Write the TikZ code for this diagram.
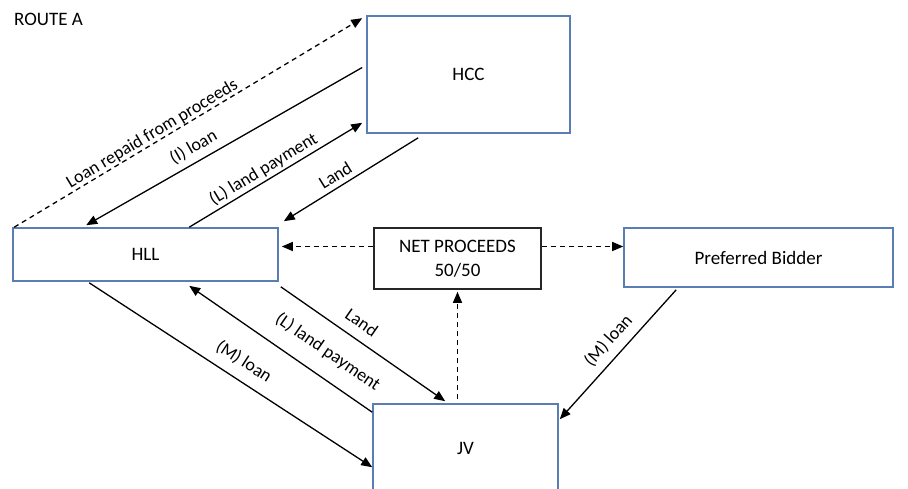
\documentclass[tikz,border=0pt]{standalone}
\usepackage{fontspec}
\setmainfont{Carlito}
\usetikzlibrary{arrows.meta,calc}
\definecolor{boxblue}{RGB}{90,125,180}
\begin{document}
\begin{tikzpicture}[x=1pt,y=-1pt,
  bluebox/.style={draw=boxblue,line width=1.6pt,rectangle,inner sep=0pt,font=\fontsize{19}{22}\selectfont,align=center},
  blackbox/.style={draw=black!85,line width=1.6pt,rectangle,inner sep=0pt,font=\fontsize{19}{24}\selectfont,align=center},
  conn/.style={line width=1.3pt,-{Triangle[length=11pt,width=9pt]}},
  dconn/.style={conn,dash pattern=on 5pt off 4pt},
  lbl/.style={sloped,inner sep=0pt,font=\fontsize{18}{21}\selectfont}]
\useasboundingbox (0,0) rectangle (908,488);
\node[anchor=west,inner sep=0pt,font=\fontsize{19}{22}\selectfont] (title) at (14,19) {ROUTE A};
\node[bluebox,minimum width=203pt,minimum height=117pt] (HCC) at (468.5,74.5) {HCC};
\node[bluebox,minimum width=265pt,minimum height=53pt] (HLL) at (145.5,254.5) {HLL};
\node[blackbox,minimum width=167pt,minimum height=61pt] (NET) at (457.5,258.5) {NET PROCEEDS\\50/50};
\node[bluebox,minimum width=269pt,minimum height=59pt] (PB) at (758.5,257.5) {Preferred Bidder};
\node[bluebox,minimum width=185pt,minimum height=88pt] (JV) at (465.5,448) {JV};
% HLL <-> HCC
\draw[dconn] ([shift={(2,0)}]HLL.north west) -- node[lbl,pos=0.41,above=0.5pt]{Loan repaid from proceeds} ([shift={(-4,3)}]HCC.north west);
\draw[conn] ([shift={(-4,-7)}]HCC.west) -- node[lbl,pos=0.585,above=6pt]{(I) loan} ([shift={(74,-2)}]HLL.north west);
\draw[conn] ([shift={(177,0)}]HLL.north west) -- node[lbl,pos=0.463,above=2.5pt]{(L) land payment} ([shift={(-4,-11)}]HCC.south west);
\draw[conn] ([shift={(52,4)}]HCC.south west) -- node[lbl,pos=0.57,above=5pt]{Land} ([shift={(5,-6)}]HLL.north east);
% net proceeds
\coordinate (nl) at ([yshift=12pt]NET.west);
\coordinate (nr) at ([yshift=12pt]NET.east);
\draw[dconn] (nl) -- ([xshift=3pt]nl -| HLL.east);
\draw[dconn] (nr) -- (nr -| PB.west);
\draw[dconn] ([yshift=4pt]NET.south |- JV.north) -- ([yshift=-2pt]NET.south);
% HLL <-> JV
\draw[conn] ([shift={(2,5)}]HLL.south east) -- node[lbl,pos=0.434,above=10pt]{Land} ([shift={(73,-2)}]JV.north west);
\draw[conn] ([shift={(0,9)}]JV.north west) -- node[lbl,pos=0.318,above=15.5pt]{(L) land payment} ([shift={(177,4)}]HLL.south west);
\draw[conn] ([shift={(77,1)}]HLL.south west) -- node[lbl,pos=0.511,above=10pt]{(M) loan} ([shift={(0,64)}]JV.north west);
% PB -> JV
\draw[conn] ([shift={(53,2)}]PB.south west) -- node[lbl,pos=0.477,above=8pt]{(M) loan} ([shift={(1,16)}]JV.north east);
\end{tikzpicture}
\end{document}
